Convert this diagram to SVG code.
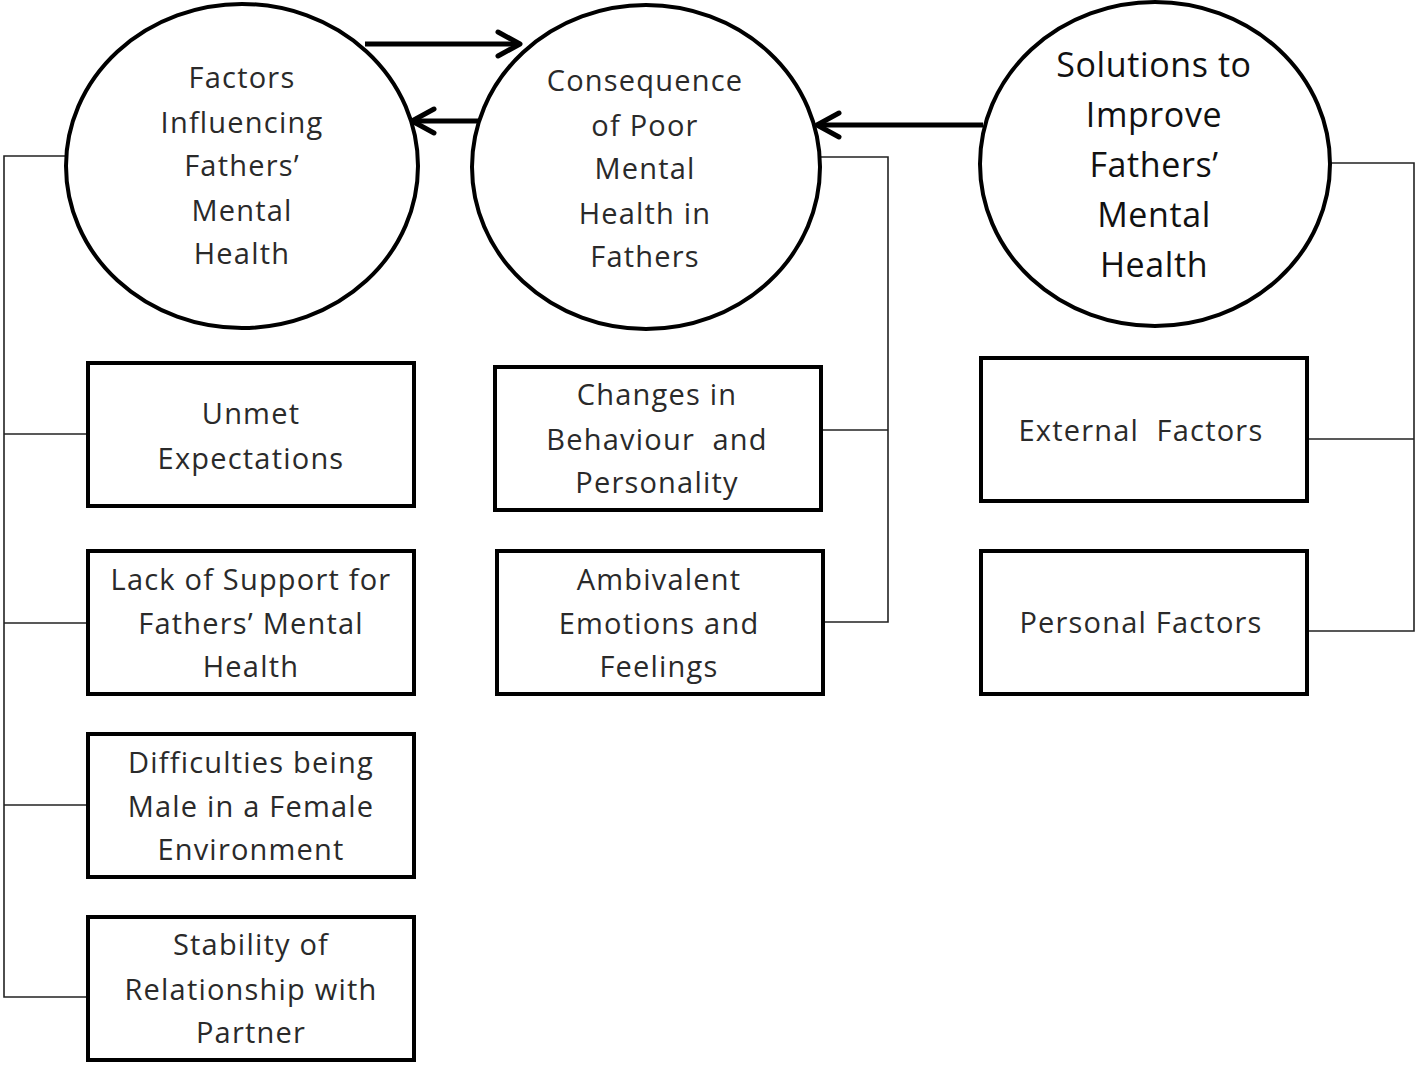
<svg xmlns="http://www.w3.org/2000/svg" width="1418" height="1065" viewBox="0 0 1418 1065">
<defs>
<style>
.node{fill:#fff;stroke:#000;stroke-width:4}
.t{font-family:"Open Sans","Noto Sans","Liberation Sans",sans-serif;font-size:29px;fill:#2a2a2a;text-anchor:middle;dominant-baseline:central;letter-spacing:1.2px}
.tb{font-size:34px;letter-spacing:0.6px;fill:#111}
.ln{fill:none;stroke:#222;stroke-width:1.6}
.ar{fill:none;stroke:#000;stroke-width:5}
.hd{fill:none;stroke:#000;stroke-width:5;stroke-linecap:round;stroke-linejoin:round}
</style>
</defs>
<rect width="1418" height="1065" fill="#fff"/>
<g id="connectors">
<polyline class="ln" points="66,156 4,156 4,997 87,997"/>
<line class="ln" x1="4" y1="434" x2="87" y2="434"/>
<line class="ln" x1="4" y1="623" x2="87" y2="623"/>
<line class="ln" x1="4" y1="805" x2="87" y2="805"/>
<polyline class="ln" points="821,157 888,157 888,622 823,622"/>
<line class="ln" x1="821" y1="430" x2="888" y2="430"/>
<polyline class="ln" points="1330,163 1414,163 1414,631 1307,631"/>
<line class="ln" x1="1307" y1="439" x2="1414" y2="439"/>
<line class="ar" x1="365" y1="44" x2="520" y2="44"/>
<polyline class="hd" points="498,32 520,44 498,56"/>
<line class="ar" x1="481" y1="121" x2="412" y2="121"/>
<polyline class="hd" points="434,109 412,121 434,133"/>
<line class="ar" x1="983" y1="125" x2="817" y2="125"/>
<polyline class="hd" points="839,113 817,125 839,137"/>
</g>
<g id="n1">
<ellipse class="node" cx="242" cy="166" rx="176" ry="162"/>
<text class="t" x="242" y="76">Factors</text>
<text class="t" x="242" y="121">Influencing</text>
<text class="t" x="242" y="164">Fathers’</text>
<text class="t" x="242" y="209">Mental</text>
<text class="t" x="242" y="252">Health</text>
</g>
<g id="n2">
<ellipse class="node" cx="646" cy="167" rx="174" ry="162"/>
<text class="t" x="645" y="79">Consequence</text>
<text class="t" x="645" y="124">of Poor</text>
<text class="t" x="645" y="167">Mental</text>
<text class="t" x="645" y="212">Health in</text>
<text class="t" x="645" y="255">Fathers</text>
</g>
<g id="n3">
<ellipse class="node" cx="1155" cy="164" rx="175" ry="162"/>
<text class="t tb" x="1154" y="64">Solutions to</text>
<text class="t tb" x="1154" y="114">Improve</text>
<text class="t tb" x="1154" y="164">Fathers’</text>
<text class="t tb" x="1154" y="214">Mental</text>
<text class="t tb" x="1154" y="264">Health</text>
</g>
<g id="b1">
<rect class="node" x="88" y="363" width="326" height="143"/>
<text class="t" x="251" y="412">Unmet</text>
<text class="t" x="251" y="457">Expectations</text>
</g>
<g id="b2">
<rect class="node" x="88" y="551" width="326" height="143"/>
<text class="t" x="251" y="578">Lack of Support for</text>
<text class="t" x="251" y="622">Fathers’ Mental</text>
<text class="t" x="251" y="665">Health</text>
</g>
<g id="b3">
<rect class="node" x="88" y="734" width="326" height="143"/>
<text class="t" x="251" y="761">Difficulties being</text>
<text class="t" x="251" y="805">Male in a Female</text>
<text class="t" x="251" y="848">Environment</text>
</g>
<g id="b4">
<rect class="node" x="88" y="917" width="326" height="143"/>
<text class="t" x="251" y="943">Stability of</text>
<text class="t" x="251" y="988">Relationship with</text>
<text class="t" x="251" y="1031">Partner</text>
</g>
<g id="b5">
<rect class="node" x="495" y="367" width="326" height="143"/>
<text class="t" x="657" y="393">Changes in</text>
<text class="t" x="657" y="438" xml:space="preserve">Behaviour  and</text>
<text class="t" x="657" y="481">Personality</text>
</g>
<g id="b6">
<rect class="node" x="497" y="551" width="326" height="143"/>
<text class="t" x="659" y="578">Ambivalent</text>
<text class="t" x="659" y="622">Emotions and</text>
<text class="t" x="659" y="665">Feelings</text>
</g>
<g id="b7">
<rect class="node" x="981" y="358" width="326" height="143"/>
<text class="t" x="1141" y="429" xml:space="preserve">External  Factors</text>
</g>
<g id="b8">
<rect class="node" x="981" y="551" width="326" height="143"/>
<text class="t" x="1141" y="621">Personal Factors</text>
</g>
</svg>
